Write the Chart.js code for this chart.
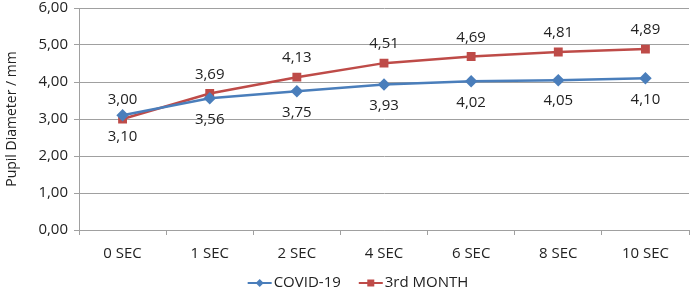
<!DOCTYPE html>
<html>
<head>
<meta charset="utf-8">
<script src="https://cdn.jsdelivr.net/npm/chart.js@4"></script>
<style>
  html, body { margin: 0; padding: 0; background: #fff; }
  #wrap { width: 696px; height: 291px; }
</style>
</head>
<body>
<div id="wrap"><canvas id="chart" width="696" height="291"></canvas></div>
<script>
const categories = ["0 SEC", "1 SEC", "2 SEC", "4 SEC", "6 SEC", "8 SEC", "10 SEC"];
const covidValues = [3.10, 3.56, 3.75, 3.93, 4.02, 4.05, 4.10];
const monthValues = [3.00, 3.69, 4.13, 4.51, 4.69, 4.81, 4.89];
const seriesNames = ["COVID-19", "3rd MONTH"];

const BLUE = "#4a7ebb";
const RED = "#be4b48";
const FONT = "'Open Sans', sans-serif";
const FS = 15;

const fmt = (v) => v.toFixed(2).replace(".", ",");

// value labels: red above the point, blue below it
const valueLabels = {
  id: "valueLabels",
  afterDatasetsDraw(chart) {
    const ctx = chart.ctx;
    ctx.save();
    ctx.font = FS + "px " + FONT;
    ctx.fillStyle = "#222";
    ctx.textAlign = "center";
    ctx.textBaseline = "middle";
    chart.data.datasets.forEach((ds, i) => {
      const meta = chart.getDatasetMeta(i);
      meta.data.forEach((pt, j) => {
        const dy = i === 1 ? -19 : 21;
        ctx.fillText(fmt(ds.data[j]), pt.x, pt.y + dy);
      });
    });
    ctx.restore();
  }
};

// legend drawn as line + marker like the original
const lineLegend = {
  id: "lineLegend",
  afterDraw(chart) {
    const ctx = chart.ctx;
    ctx.save();
    ctx.font = FS + "px " + FONT;
    ctx.textBaseline = "middle";
    const y = 283;
    const items = [
      { text: seriesNames[0], color: BLUE, shape: "diamond" },
      { text: seriesNames[1], color: RED, shape: "square" }
    ];
    const lineW = 24, gap = 2, spacing = 18;
    let total = 0;
    items.forEach((it) => { it.w = lineW + gap + ctx.measureText(it.text).width; total += it.w; });
    total += spacing;
    let x = 358 - total / 2;
    items.forEach((it) => {
      ctx.strokeStyle = it.color;
      ctx.lineWidth = 2;
      ctx.beginPath();
      ctx.moveTo(x, y);
      ctx.lineTo(x + lineW, y);
      ctx.stroke();
      ctx.fillStyle = it.color;
      const cx = x + lineW / 2;
      ctx.beginPath();
      if (it.shape === "diamond") {
        ctx.moveTo(cx, y - 4); ctx.lineTo(cx + 4, y); ctx.lineTo(cx, y + 4); ctx.lineTo(cx - 4, y);
      } else {
        ctx.rect(cx - 3.5, y - 3.5, 7, 7);
      }
      ctx.closePath();
      ctx.fill();
      ctx.fillStyle = "#222";
      ctx.fillText(it.text, x + lineW + gap, y);
      x += it.w + spacing;
    });
    ctx.restore();
  }
};

const chart = new Chart(document.getElementById("chart"), {
  type: "line",
  data: {
    labels: categories,
    datasets: [
      {
        label: seriesNames[0],
        data: covidValues,
        borderColor: BLUE,
        backgroundColor: BLUE,
        borderWidth: 2.5,
        pointStyle: "rectRot",
        pointRadius: 4.5,
        pointHoverRadius: 4.5,
        tension: 0
      },
      {
        label: seriesNames[1],
        data: monthValues,
        borderColor: RED,
        backgroundColor: RED,
        borderWidth: 2.5,
        pointStyle: "rect",
        pointRadius: 4.5,
        pointHoverRadius: 4.5,
        tension: 0
      }
    ]
  },
  options: {
    responsive: false,
    animation: false,
    devicePixelRatio: 1,
    layout: { padding: { top: 0, right: 3, bottom: 24, left: 4 } },
    plugins: {
      legend: { display: false },
      tooltip: { enabled: false }
    },
    scales: {
      x: {
        offset: true,
        grid: {
          offset: true,
          drawOnChartArea: false,
          color: "#a0a0a0",
          tickLength: 5
        },
        border: { color: "#a0a0a0", width: 1 },
        ticks: {
          color: "#222",
          font: { family: FONT, size: FS },
          padding: 10
        },
        afterFit(scale) { scale.height = 37; }
      },
      y: {
        min: 0,
        max: 6,
        ticks: {
          stepSize: 1,
          color: "#222",
          font: { family: FONT, size: FS },
          padding: 6,
          callback: (v) => fmt(v)
        },
        grid: {
          color: "#a0a0a0",
          tickLength: 5
        },
        border: { color: "#a0a0a0", width: 1 },
        title: {
          display: true,
          text: "Pupil Diameter / mm",
          color: "#222",
          font: { family: FONT, size: 14 },
          padding: { top: 0, bottom: 2 }
        },
        afterFit(scale) {
          scale.width = 75;
          scale.paddingTop = 8;
          scale.paddingBottom = 0;
        }
      }
    }
  },
  plugins: [valueLabels, lineLegend]
});
</script>
</body>
</html>
